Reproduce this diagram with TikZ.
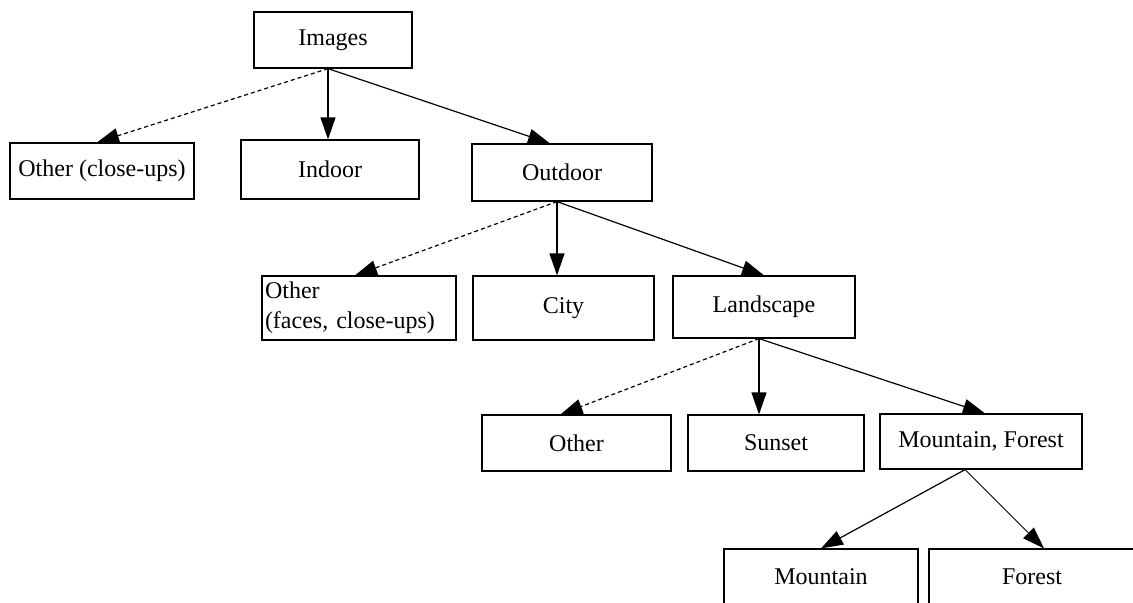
\documentclass[tikz,border=0pt]{standalone}
\usepackage{fontspec}
\setmainfont{Liberation Serif}
\usetikzlibrary{arrows.meta}

\begin{document}
\begin{tikzpicture}[x=0.5pt,y=-0.5pt]
    \path[use as bounding box,clip] (0,0) rectangle (1133,602);

    \begin{scope}[every node/.style={rectangle,draw,line width=0.6pt,inner sep=1.5pt,
        minimum height=28pt,font=\fontsize{12}{15}\selectfont}]
      \node[minimum width=79pt] (images) at (333,40) {Images};
      \node[minimum width=92pt] (closeups) at (102,171) {Other (close-ups)};
      \node[minimum width=89pt,minimum height=29.5pt] (indoor) at (330,169.5) {Indoor};
      \node[minimum width=90pt,minimum height=28.5pt] (outdoor) at (562,172.5) {Outdoor};
      \node[minimum width=97pt,minimum height=32pt,text width=94pt,align=left] (faces) at (359,308) {Other\\(faces, close-ups)};
      \node[minimum width=90.5pt,minimum height=32pt] (city) at (563.5,308) {City};
      \node[minimum width=91pt,minimum height=31pt] (landscape) at (764,307) {Landscape};
      \node[minimum width=94.5pt] (other) at (576.5,443) {Other};
      \node[minimum width=88pt] (sunset) at (776,443) {Sunset};
      \node[minimum width=101pt,minimum height=27.5pt] (mtnforest) at (981,441.5) {Mountain, Forest};
      \node[minimum width=97pt] (mountain) at (821,577) {Mountain};
      \node[minimum width=103pt] (forest) at (1032,577) {Forest};
    \end{scope}

    \begin{scope}[>={Triangle[length=11pt,width=7.5pt]},
        every edge/.style={draw,line width=0.6pt},
        otheredge/.style={dash pattern=on 2pt off 1.5pt}]
      \path [->] ([xshift=-2.5pt]images.south) edge[otheredge] ([xshift=-2.5pt]closeups.north);
      \path [->] ([xshift=-2.5pt]images.south) edge ([xshift=-1pt]indoor.north);
      \path [->] ([xshift=-2.5pt]images.south) edge ([xshift=-6pt]outdoor.north);

      \path [->] ([xshift=-2.5pt]outdoor.south) edge[otheredge] ([xshift=-2pt]faces.north);
      \path [->] ([xshift=-2.5pt]outdoor.south) edge ([xshift=-3.25pt]city.north);
      \path [->] ([xshift=-2.5pt]outdoor.south) edge (landscape.north);

      \path [->] ([xshift=-2.5pt]landscape.south) edge[otheredge] ([xshift=-8pt]other.north);
      \path [->] ([xshift=-2.5pt]landscape.south) edge ([xshift=-8.5pt]sunset.north);
      \path [->] ([xshift=-2.5pt]landscape.south) edge ([xshift=2pt]mtnforest.north);

      \path [->] ([xshift=-8pt]mtnforest.south) edge (mountain.north);
      \path [->] ([xshift=-8pt]mtnforest.south) edge[line width=0.45pt] ([xshift=6pt]forest.north);
    \end{scope}
\end{tikzpicture}
\end{document}
